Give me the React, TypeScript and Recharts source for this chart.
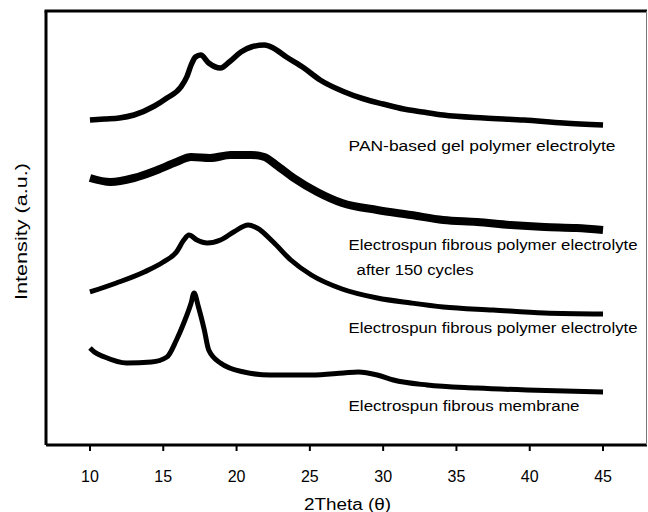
import React from 'react';
import { LineChart, Line, XAxis, YAxis, ReferenceDot } from 'recharts';

// ---- data (2Theta in degrees, intensity in arbitrary units) ----
const xTicks = [10, 15, 20, 25, 30, 35, 40, 45];

const panX = [10, 11, 12, 13, 14.4, 15.25, 16.2, 16.6, 16.9, 17.2, 17.55, 18.1, 18.9, 19.5, 20.3, 21, 21.9, 22.5, 23.4, 24.6, 25.7, 27.2, 28.7, 30, 31.4, 32.7, 34.1, 36.9, 39.6, 42.3, 45];
const panY = [325, 326, 327, 330, 339, 347, 358, 368, 380, 388, 390, 382, 377, 383, 393, 398, 400, 397, 388, 377, 365, 354, 346, 341, 336, 333, 330, 327, 325, 322, 320];

const cycX = [10, 11.4, 13, 14.6, 15.9, 16.9, 18.2, 19.6, 21, 21.9, 22.7, 23.9, 25.5, 27.2, 29.6, 31.9, 34.1, 36.4, 38.7, 41, 43.2, 45];
const cycY = [267, 263, 267, 275, 283, 288, 287, 290, 290, 288, 280, 267, 253, 242, 235, 230, 225, 223, 220, 218, 217, 215];

const elecX = [10, 11.8, 13.7, 15, 15.9, 16.4, 16.75, 17.3, 18, 18.9, 19.8, 20.8, 21.4, 22.5, 23.7, 25.1, 27.2, 29.6, 31.9, 34.1, 37.5, 41, 45];
const elecY = [153, 162, 173, 183, 193, 205, 210, 205, 202, 205, 213, 220, 217, 203, 185, 170, 156, 147, 142, 138, 135, 132, 131];

const memX = [10, 10.3, 11, 12.5, 14.2, 15.25, 15.9, 16.4, 16.9, 17.1, 17.4, 17.8, 18.1, 18.9, 20.5, 22.3, 25.1, 27.3, 28.3, 29.6, 30.7, 33, 36.4, 39.8, 45];
const memY = [97, 93, 88, 82, 83, 88, 105, 122, 142, 152, 138, 115, 95, 82, 73, 70, 70, 72, 73, 70, 65, 60, 57, 55, 53];

const annotations = [
  'PAN-based gel polymer electrolyte',
  'Electrospun fibrous polymer electrolyte',
  'after 150 cycles',
  'Electrospun fibrous polymer electrolyte',
  'Electrospun fibrous membrane',
];

const xTitle = '2Theta (\u03b8)';
const yTitle = 'Intensity (a.u.)';

// ---- layout (positions of annotation baselines in data coords, and text widths) ----
const annotLayout = [
  { x: 27.64, y: 294.5, len: 267 },
  { x: 27.64, y: 195.5, len: 289 },
  { x: 28.19, y: 170.5, len: 117 },
  { x: 27.64, y: 112, len: 289 },
  { x: 27.64, y: 34, len: 231 },
];

const PLOT_TOP = 11;
const FONT = '"Liberation Sans", Arial, Helvetica, sans-serif';

const zip = (xs: number[], ys: number[]) => xs.map((x, i) => ({ x, y: ys[i] }));
const panData = zip(panX, panY);
const cycData = zip(cycX, cycY);
const elecData = zip(elecX, elecY);
const memData = zip(memX, memY);

const Tick = (props: any) => {
  const { x, y, payload } = props;
  return (
    <text x={x} y={y} dy="0.71em" textAnchor="middle" fontSize={16} fontFamily={FONT} fill="#000">
      {payload.value}
    </text>
  );
};

const AnnotText = (props: any) => {
  const { viewBox, text, len } = props;
  const cx = viewBox.x + (viewBox.width || 0) / 2;
  const cy = viewBox.y + (viewBox.height || 0) / 2;
  return (
    <text
      x={cx}
      y={cy}
      fontSize={15.5}
      fontFamily={FONT}
      fill="#000"
      textLength={len}
      lengthAdjust="spacingAndGlyphs"
    >
      {text}
    </text>
  );
};

// x-axis title, plus the top (thick) and right (thin grey) edges of the plot box,
// placed from the x-axis viewBox (x/width = plot span, y = plot bottom)
const XTitle = (props: any) => {
  const { viewBox } = props;
  const left = viewBox.x;
  const right = viewBox.x + viewBox.width;
  const bottom = viewBox.y;
  const cx = left + viewBox.width / 2 + 1;
  return (
    <g>
      <line x1={left - 1.5} y1={PLOT_TOP} x2={right} y2={PLOT_TOP} stroke="#000" strokeWidth={3} />
      <line x1={right - 0.5} y1={PLOT_TOP} x2={right - 0.5} y2={bottom} stroke="#777" strokeWidth={1} />
      <text x={cx} y={510} textAnchor="middle" fontSize={16} fontFamily={FONT} fill="#000" textLength={87} lengthAdjust="spacingAndGlyphs">
        {xTitle}
      </text>
    </g>
  );
};

const YTitle = () => {
  return (
    <text
      x={27}
      y={231.5}
      transform="rotate(-90 27 231.5)"
      textAnchor="middle"
      fontSize={16.5}
      fontFamily={FONT}
      fill="#000"
      textLength={137}
      lengthAdjust="spacingAndGlyphs"
    >
      {yTitle}
    </text>
  );
};

export default function App() {
  return (
    <div style={{ position: 'absolute', left: 0, top: 0, width: 648, height: 512, background: '#fff' }}>
      <LineChart width={648} height={512} margin={{ top: PLOT_TOP, right: 1, bottom: 7, left: 0 }}>
        <XAxis
          dataKey="x"
          type="number"
          domain={[7, 48]}
          ticks={xTicks}
          allowDataOverflow
          axisLine={{ stroke: '#000', strokeWidth: 3 }}
          tickLine={{ stroke: '#000', strokeWidth: 2 }}
          tickSize={6}
          tickMargin={20}
          tick={<Tick />}
          height={60}
          label={<XTitle />}
        />
        <YAxis
          type="number"
          domain={[0, 434]}
          allowDataOverflow
          width={46}
          tick={false}
          tickLine={false}
          axisLine={{ stroke: '#000', strokeWidth: 3 }}
          label={<YTitle />}
        />
        <Line data={panData} dataKey="y" type="monotone" stroke="#000" strokeWidth={5.5} dot={false} isAnimationActive={false} strokeLinejoin="round" />
        <Line data={cycData} dataKey="y" type="monotone" stroke="#000" strokeWidth={8} dot={false} isAnimationActive={false} strokeLinejoin="round" />
        <Line data={elecData} dataKey="y" type="monotone" stroke="#000" strokeWidth={5} dot={false} isAnimationActive={false} strokeLinejoin="round" />
        <Line data={memData} dataKey="y" type="monotone" stroke="#000" strokeWidth={5} dot={false} isAnimationActive={false} strokeLinejoin="round" />
        {annotations.map((t, i) => (
          <ReferenceDot
            key={i}
            x={annotLayout[i].x}
            y={annotLayout[i].y}
            r={1}
            fill="none"
            stroke="none"
            label={<AnnotText text={t} len={annotLayout[i].len} />}
          />
        ))}
      </LineChart>
    </div>
  );
}
